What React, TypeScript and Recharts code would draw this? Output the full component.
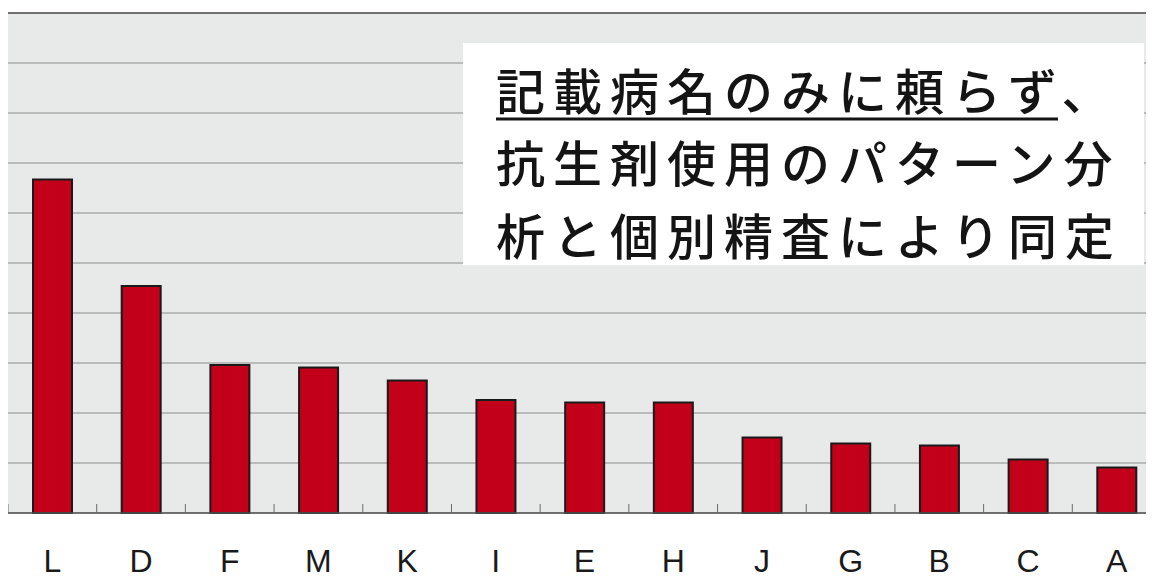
import React from "react";
import { BarChart, Bar, XAxis, YAxis, CartesianGrid } from "recharts";

const categories = ["L", "D", "F", "M", "K", "I", "E", "H", "J", "G", "B", "C", "A"];
const values = [6.67, 4.54, 2.96, 2.91, 2.65, 2.26, 2.21, 2.21, 1.51, 1.39, 1.35, 1.07, 0.91];
const yTicks = [0, 1, 2, 3, 4, 5, 6, 7, 8, 9, 10];
const noteLines = ["記載病名のみに頼らず、", "抗生剤使用のパターン分", "析と個別精査により同定"];

const data = categories.map((name, i) => ({ name, value: values[i] }));

const NOTE_FONT = 49;
const NOTE_SPACING = 8;
const NOTE_X = 488;
const NOTE_Y = [80, 152.5, 225];

// label below the axis plus a small tick at the left edge of each category band
function CategoryTick(props: any) {
  const { x, y, payload } = props;
  const off = payload?.offset ?? 0;
  return (
    <g>
      <line x1={x - off} x2={x - off} y1={y} y2={y - 9} stroke="#6b6b6b" strokeWidth={1} />
      <text
        x={x}
        y={y + 59}
        textAnchor="middle"
        fontSize={32}
        fontFamily="'Liberation Sans', Arial, sans-serif"
        fill="#1a1a1a"
      >
        {payload.value}
      </text>
    </g>
  );
}

export default function App() {
  return (
    <div style={{ width: 1146, height: 571, overflow: "hidden", background: "#fff" }}>
      <BarChart
        width={1153}
        height={571}
        data={data}
        margin={{ top: 5, right: 0, bottom: 0, left: 0 }}
        barSize={39}
      >
        <CartesianGrid
          vertical={false}
          horizontal
          stroke="#8c8c8c"
          strokeWidth={1}
          fill="#e8eaea"
          fillOpacity={1}
        />
        <XAxis
          dataKey="name"
          height={66}
          tickLine={false}
          tickSize={0}
          tickMargin={0}
          interval={0}
          axisLine={{ stroke: "#555", strokeWidth: 1.5 }}
          tick={<CategoryTick />}
        />
        <YAxis
          width={0}
          domain={[0, 10]}
          ticks={yTicks}
          interval={0}
          tick={() => <g />}
          tickLine={false}
          axisLine={{ stroke: "#777", strokeWidth: 1 }}
        />
        <Bar
          dataKey="value"
          fill="#c20019"
          stroke="#1a1a1a"
          strokeWidth={2}
          isAnimationActive={false}
        />
        <g>
          <line x1={0} x2={1153} y1={5} y2={5} stroke="#555" strokeWidth={1.5} />
          <rect x={455} y={35} width={681} height={222} fill="#ffffff" />
          {noteLines.map((t, i) => (
            <text
              key={i}
              x={NOTE_X}
              y={NOTE_Y[i]}
              textAnchor="start"
              dominantBaseline="central"
              fontSize={NOTE_FONT}
              letterSpacing={NOTE_SPACING}
              fontFamily="'Noto Sans CJK JP', sans-serif"
              fontWeight={500}
              fill="#141414"
            >
              {t}
            </text>
          ))}
          <line
            x1={NOTE_X}
            x2={NOTE_X + 10 * (NOTE_FONT + NOTE_SPACING) - NOTE_SPACING}
            y1={111}
            y2={111}
            stroke="#141414"
            strokeWidth={3}
          />
        </g>
      </BarChart>
    </div>
  );
}
